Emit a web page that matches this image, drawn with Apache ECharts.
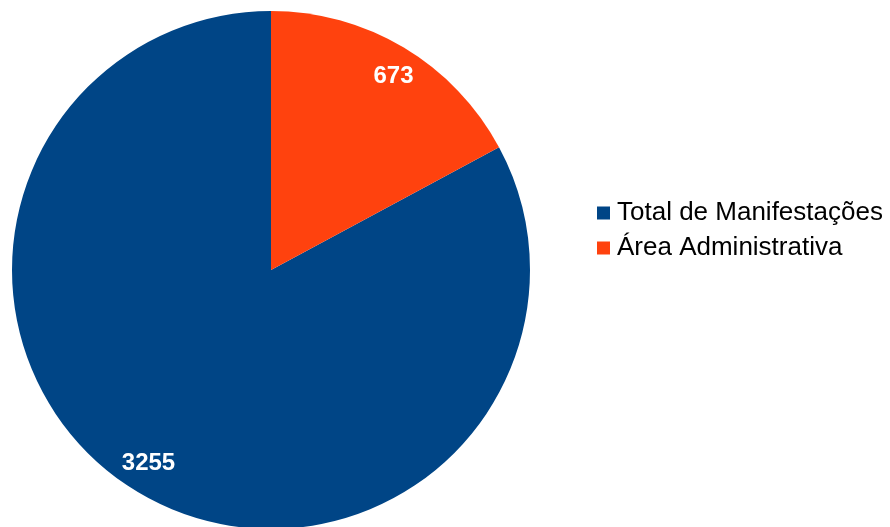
<!DOCTYPE html>
<html>
<head>
<meta charset="utf-8">
<script src="https://cdn.jsdelivr.net/npm/echarts@6/dist/echarts.min.js"></script>
<style>html,body{margin:0;padding:0;background:#fff;}#c{width:890px;height:527px;}</style>
</head>
<body>
<div id="c"></div>
<script>
const categories = ['Total de Manifestações', 'Área Administrativa'];
const values = [3255, 673];
const colors = ['#004586', '#ff420e'];

const pieData = categories.map((n, i) => ({ name: n, value: values[i], itemStyle: { color: colors[i] } }));
const labelData = categories.map((n, i) => ({ name: n, value: values[i] }));

const chart = echarts.init(document.getElementById('c'), null, { renderer: 'canvas' });
chart.setOption({
  animation: false,
  backgroundColor: '#ffffff',
  legend: {
    orient: 'vertical',
    left: 592,
    top: 195,
    itemWidth: 13,
    itemHeight: 13,
    itemGap: 9,
    icon: 'rect',
    data: categories,
    textStyle: { fontFamily: 'Liberation Sans', fontSize: 26, color: '#000', lineHeight: 26, padding: [0, 0, 0, 2] }
  },
  series: [
    {
      type: 'pie',
      center: [271, 270],
      radius: [0, 259],
      startAngle: 90,
      clockwise: false,
      data: pieData,
      label: { show: false },
      labelLine: { show: false },
      silent: true
    },
    {
      type: 'pie',
      center: [271, 270],
      radius: [0, 452],
      startAngle: 88.5,
      clockwise: false,
      data: labelData,
      itemStyle: { color: 'rgba(0,0,0,0)' },
      label: {
        show: true,
        position: 'inside',
        formatter: '{c}',
        color: '#fff',
        fontFamily: 'Liberation Sans',
        fontWeight: 'bold',
        fontSize: 24
      },
      labelLine: { show: false },
      silent: true,
      z: 3
    }
  ]
});
</script>
</body>
</html>
